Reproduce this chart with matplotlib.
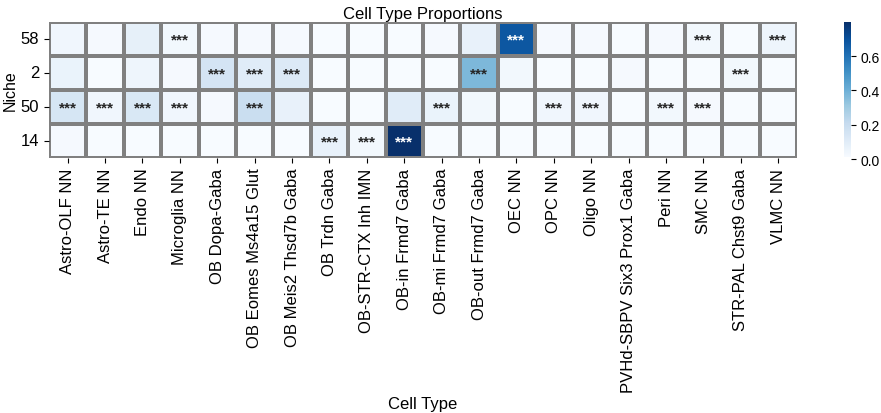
import numpy as np
import matplotlib
matplotlib.use("Agg")
import matplotlib.pyplot as plt
import seaborn as sns

cell_types = ["Astro-OLF NN", "Astro-TE NN", "Endo NN", "Microglia NN", "OB Dopa-Gaba",
              "OB Eomes Ms4a15 Glut", "OB Meis2 Thsd7b Gaba", "OB Trdn Gaba",
              "OB-STR-CTX Inh IMN", "OB-in Frmd7 Gaba", "OB-mi Frmd7 Gaba", "OB-out Frmd7 Gaba",
              "OEC NN", "OPC NN", "Oligo NN", "PVHd-SBPV Six3 Prox1 Gaba", "Peri NN", "SMC NN",
              "STR-PAL Chst9 Gaba", "VLMC NN"]
niches = ["58", "2", "50", "14"]

prop_58 = [0.04, 0.02, 0.08, 0.03, 0.02, 0.02, 0.02, 0.01, 0.01, 0.01,
           0.02, 0.07, 0.68, 0.02, 0.02, 0.01, 0.02, 0.03, 0.01, 0.05]
prop_2 = [0.06, 0.01, 0.05, 0.02, 0.15, 0.10, 0.12, 0.01, 0.01, 0.01,
          0.01, 0.37, 0.03, 0.01, 0.01, 0.02, 0.01, 0.01, 0.03, 0.01]
prop_50 = [0.14, 0.04, 0.13, 0.04, 0.02, 0.19, 0.07, 0.01, 0.01, 0.10,
           0.06, 0.03, 0.01, 0.04, 0.04, 0.01, 0.03, 0.02, 0.01, 0.01]
prop_14 = [0.02, 0.01, 0.01, 0.01, 0.01, 0.01, 0.01, 0.07, 0.03, 0.80,
           0.01, 0.01, 0.01, 0.01, 0.01, 0.01, 0.01, 0.01, 0.01, 0.01]

# significance stars (1 = ***)
sig_58 = [0, 0, 0, 1, 0, 0, 0, 0, 0, 0, 0, 0, 1, 0, 0, 0, 0, 1, 0, 1]
sig_2 = [0, 0, 0, 0, 1, 1, 1, 0, 0, 0, 0, 1, 0, 0, 0, 0, 0, 0, 1, 0]
sig_50 = [1, 1, 1, 1, 0, 1, 0, 0, 0, 0, 1, 0, 0, 1, 1, 0, 1, 1, 0, 0]
sig_14 = [0, 0, 0, 0, 0, 0, 0, 1, 1, 1, 0, 0, 0, 0, 0, 0, 0, 0, 0, 0]

plt.rcParams['font.family'] = ['Liberation Sans', 'DejaVu Sans']

data = np.array([prop_58, prop_2, prop_50, prop_14])
sig = np.array([sig_58, sig_2, sig_50, sig_14])
labels = np.where(sig == 1, "***", "")

fig = plt.figure(figsize=(8.81, 4.14), dpi=100)
ax = fig.add_axes([0.0556, 0.616, 0.849, 0.3285])
cax = fig.add_axes([0.958, 0.6135, 0.008, 0.331])

sns.heatmap(data, ax=ax, cbar_ax=cax, cmap="Blues", annot=labels, fmt="",
            annot_kws={"fontsize": 11, "fontweight": "bold"},
            linewidths=1.5, linecolor="gray",
            xticklabels=cell_types, yticklabels=niches)

ax.set_title("Cell Type Proportions", fontsize=12, pad=3)
ax.set_xlabel("Cell Type", fontsize=12, labelpad=3)
ax.set_ylabel("Niche", fontsize=11.5, labelpad=2)
ax.tick_params(axis="x", labelsize=12, rotation=90)
ax.tick_params(axis="y", labelsize=12, rotation=0)
cax.tick_params(labelsize=10)
cax.set_yticks([0.0, 0.2, 0.4, 0.6])
for sp in ax.spines.values():
    sp.set_visible(False)

fig.savefig("out.png", dpi=100)
